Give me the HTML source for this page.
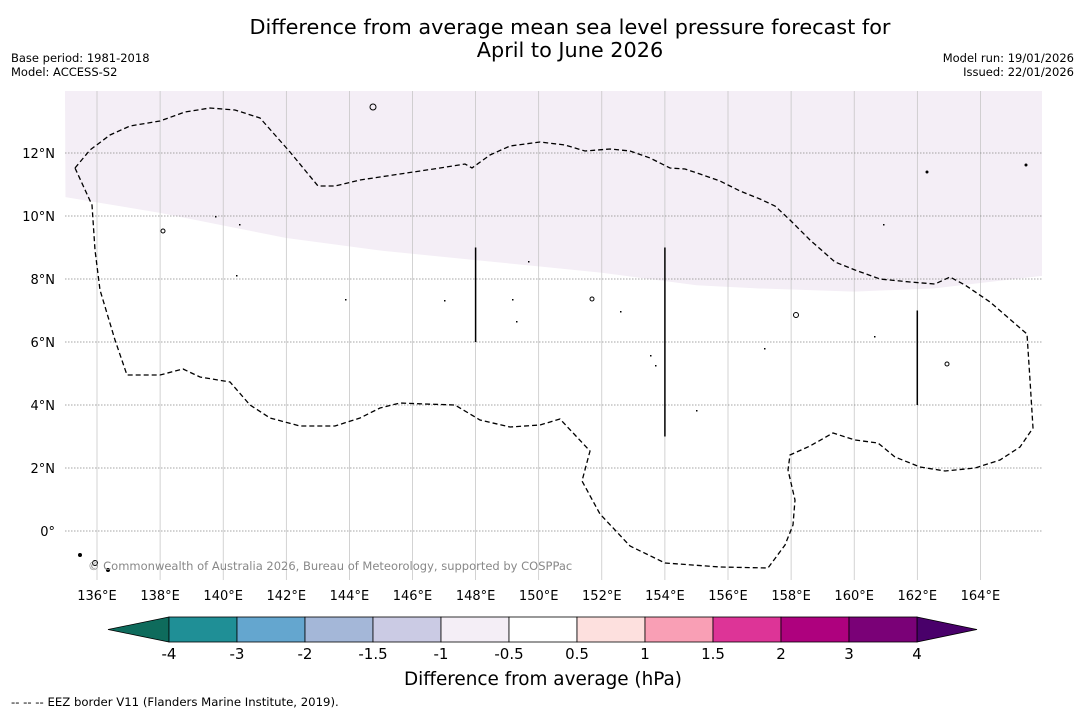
<!DOCTYPE html>
<html><head><meta charset="utf-8">
<style>
body{margin:0;background:#fff;width:1085px;height:713px;overflow:hidden;font-family:"DejaVu Sans","Liberation Sans",sans-serif;}
svg{position:absolute;left:0;top:0;font-family:"DejaVu Sans","Liberation Sans",sans-serif}
</style></head>
<body>
<svg id="chart" width="1085" height="713">
<text x="570" y="34" font-size="20.8" text-anchor="middle">Difference from average mean sea level pressure forecast for</text>
<text x="570" y="57" font-size="20.8" text-anchor="middle">April to June 2026</text>
<text x="11" y="62" font-size="11.5">Base period: 1981-2018</text>
<text x="11" y="76" font-size="11.5">Model: ACCESS-S2</text>
<text x="1074" y="62" font-size="11.5" text-anchor="end">Model run: 19/01/2026</text>
<text x="1074" y="76" font-size="11.5" text-anchor="end">Issued: 22/01/2026</text>
<g id="map"></g>
<g id="cbar"></g>
<text x="543" y="685" font-size="18.4" text-anchor="middle">Difference from average (hPa)</text>
<text x="11" y="706" font-size="11.7">--  --  -- EEZ border V11 (Flanders Marine Institute, 2019).</text>
</svg>
<script>
const lonTicks=[136,138,140,142,144,146,148,150,152,154,156,158,160,162,164];
const latTicks=[12,10,8,6,4,2,0];
const cbLevels=["-4","-3","-2","-1.5","-1","-0.5","0.5","1","1.5","2","3","4"];
const cbColors=["#1f8f96","#64a6cf","#a4b7d8","#cbcbe4","#f4eef6","#ffffff","#fde0de","#f99fb5","#dd3497","#ae017e","#7a0177"];
const cbUnder="#0e6b5c", cbOver="#49006a";
const shadeLon=[135,138,140,142,145,148,150,152,155,157,160,162.5,166];
const shadeLat=[10.6,10.1,9.7,9.3,8.9,8.6,8.4,8.2,7.8,7.7,7.6,7.7,8.1];
const ns="http://www.w3.org/2000/svg";
const X0=65,X1=1042,Y0=91,Y1=580;
const xs=lon=>97+(lon-136)*31.55;
const ys=lat=>531-lat*31.5;
const map=document.getElementById('map');
function mk(tag,attrs,parent){const e=document.createElementNS(ns,tag);for(const k in attrs)e.setAttribute(k,attrs[k]);(parent||map).appendChild(e);return e;}
let d=`M${X0},${Y0}L${X1},${Y0}`;
for(let i=shadeLon.length-1;i>=0;i--)d+=`L${Math.min(X1,Math.max(X0,xs(shadeLon[i])))},${ys(shadeLat[i])}`;
const sh=mk('path',{d:d+'Z',fill:'#f4eef6'});


lonTicks.forEach(l=>{const x=xs(l);
 const g=mk('line',{x1:x,x2:x,y1:Y0,y2:Y1,stroke:'#c0c0c0','stroke-width':0.7});
 
 const t=mk('text',{x:x,y:600,'font-size':13,'text-anchor':'middle'});t.textContent=l+'°E';
 });
latTicks.forEach(l=>{const y=ys(l);
 const g=mk('line',{x1:X0,x2:X1,y1:y,y2:y,stroke:'#888','stroke-width':0.8,'stroke-dasharray':'1.5,1.5'});
 
 const t=mk('text',{x:55,y:y+5,'font-size':13,'text-anchor':'end'});t.textContent=l===0?'0°':l+'°N';
 });
const eez=[[75,168],[90,150],[110,135],[130,126],[160,121],[185,112],[210,108],[235,110],[260,118],[290,152],[318,186],[335,186],[360,180],[400,174],[440,168],[465,164],[472,168],[490,155],[510,146],[540,142],[565,145],[585,151],[610,149],[630,151],[650,158],[670,168],[685,169],[700,174],[720,181],[740,191],[760,199],[775,206],[790,220],[810,240],[835,262],[855,270],[880,279],[910,282],[935,284],[950,277],[965,285],[990,302],[1027,334],[1030,380],[1033,428],[1020,447],[1000,460],[975,468],[945,471],[920,467],[895,457],[878,443],[855,440],[833,433],[810,446],[790,455],[788,470],[795,500],[793,525],[785,545],[768,568],[720,567],[665,563],[630,546],[600,514],[582,481],[590,451],[575,435],[560,419],[540,425],[510,427],[480,420],[455,405],[425,404],[400,403],[380,408],[360,418],[335,426],[300,426],[270,418],[250,405],[230,382],[200,377],[183,369],[160,375],[127,375],[115,340],[100,290],[95,250],[92,205],[75,168]];
const ep=mk('path',{d:'M'+eez.map(p=>p.join(',')).join('L'),fill:'none',stroke:'#000','stroke-width':1.3,'stroke-dasharray':'5,3'});

[[148,9,6],[154,9,3],[162,7,4]].forEach(v=>{const l=mk('line',{x1:xs(v[0]),x2:xs(v[0]),y1:ys(v[1]),y2:ys(v[2]),stroke:'#000','stroke-width':1.5});
 });
[[373,107,3],[163,231,2],[592,299,2],[796,315,2.5],[947,364,2],[1026,165,1],[927,172,1],[80,555,1.5],[95,563,2.5],[108,570,1.5]].forEach(p=>{const c=mk('circle',{cx:p[0],cy:p[1],r:p[2],fill:p[2]<2?'#000':'none',stroke:'#000','stroke-width':1});
 });
[[236,275],[345,299],[444,300],[512,299],[516,321],[528,261],[620,311],[650,355],[655,365],[696,410],[764,348],[874,336],[883,224],[215,216],[239,224]].forEach(p=>{const c=mk('rect',{x:p[0],y:p[1],width:1.5,height:1.5,fill:'#000'});
 });
const cp=mk('text',{x:88,y:570,'font-size':11.5,fill:'#888'});cp.textContent='© Commonwealth of Australia 2026, Bureau of Meteorology, supported by COSPPac';

const cb=document.getElementById('cbar');
const CX0=169,CW=68,CY=617,CH=25;
const ut=mk('polygon',{points:`108,${CY+CH/2} ${CX0},${CY} ${CX0},${CY+CH}`,fill:cbUnder,stroke:'#000','stroke-width':0.8},cb);

const xe=CX0+CW*cbColors.length;
const ot=mk('polygon',{points:`${xe},${CY} ${xe+60},${CY+CH/2} ${xe},${CY+CH}`,fill:cbOver,stroke:'#000','stroke-width':0.8},cb);

cbColors.forEach((c,i)=>{const r=mk('rect',{x:CX0+i*CW,y:CY,width:CW,height:CH,fill:c,stroke:'#000','stroke-width':0.8},cb);
 });
cbLevels.forEach((s,i)=>{const t=mk('text',{x:CX0+i*CW,y:659,'font-size':15,'text-anchor':'middle'},cb);t.textContent=s;
 });
</script>
</body></html>
